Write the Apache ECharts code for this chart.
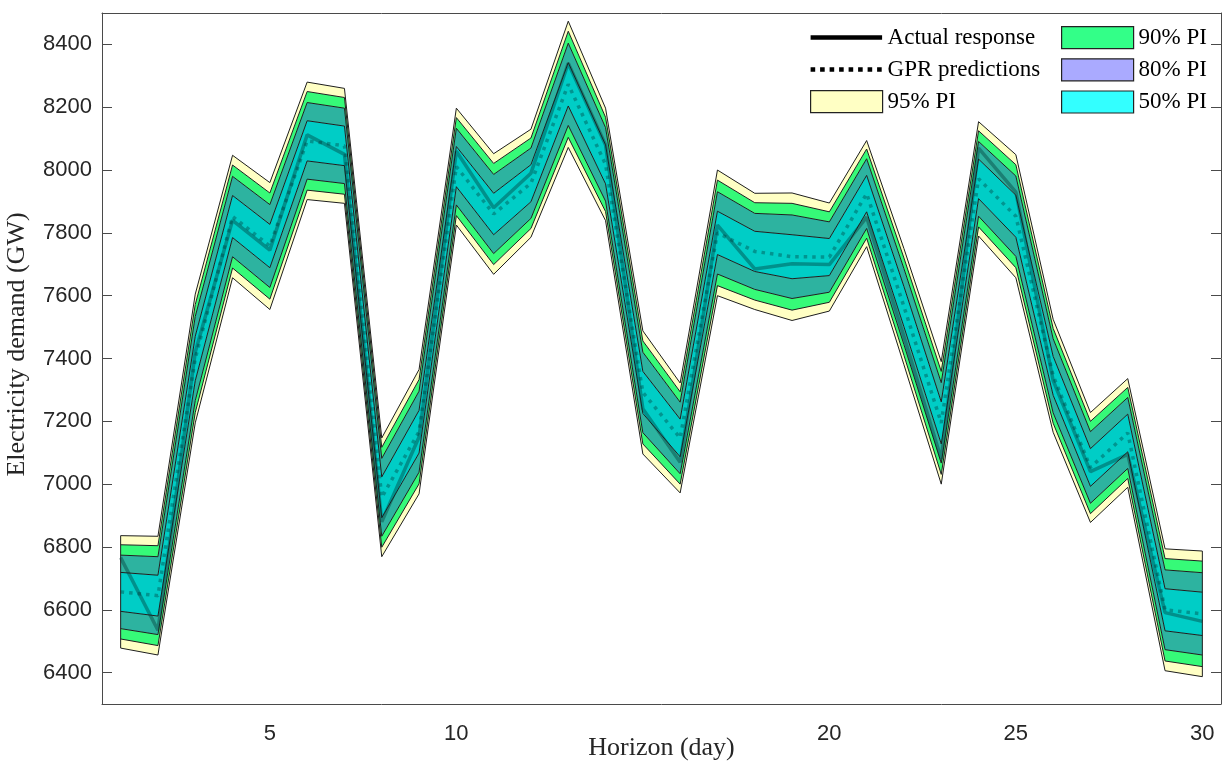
<!DOCTYPE html>
<html>
<head>
<meta charset="utf-8">
<script src="https://cdn.jsdelivr.net/npm/echarts@6/dist/echarts.min.js"></script>
<style>
  html, body { margin: 0; padding: 0; background: #fff; }
  #chart { width: 1222px; height: 765px; }
</style>
</head>
<body>
<div id="chart"></div>
<script>
// Forecast horizon (days)
const days = ['1','2','3','4','5','6','7','8','9','10','11','12','13','14','15',
              '16','17','18','19','20','21','22','23','24','25','26','27','28','29','30'];

// Observed daily electricity demand (GW)
const actual = [6766, 6535, 7420, 7840, 7745, 8112, 8050, 6880, 7150, 8060,
                7880, 7990, 8340, 8080, 7240, 7070, 7825, 7685, 7702, 7699,
                7850, 7470, 7080, 8070, 7930, 7330, 7040, 7095, 6591, 6563];

// GPR mean prediction (GW)
const pred = [6657, 6645, 7400, 7852, 7758, 8093, 8077, 6958, 7167, 8011,
              7860, 7958, 8273, 8018, 7292, 7147, 7800, 7741, 7724, 7723,
              7925, 7565, 7195, 7972, 7853, 7345, 7053, 7163, 6600, 6587];

// Half-widths of the prediction intervals around the mean (GW)
const half95 = [179, 189, 205, 195, 202, 187, 183, 189, 198, 186,
                192, 172, 201, 179, 196, 175, 200, 185, 203, 172,
                169, 185, 195, 182, 196, 180, 175, 173, 194, 200];
const half90 = [150, 159, 172, 164, 169, 157, 154, 159, 166, 156,
                161, 144, 169, 150, 164, 147, 168, 155, 170, 144,
                142, 155, 164, 153, 164, 151, 147, 145, 163, 168];
const half80 = [117, 124, 134, 128, 132, 122, 120, 124, 129, 122,
                126, 112, 131, 117, 128, 114, 131, 121, 133, 112,
                111, 121, 128, 119, 128, 118, 114, 113, 127, 131];
const half50 = [62, 65, 71, 67, 69, 64, 63, 65, 68, 64,
                66, 59, 69, 62, 67, 60, 69, 64, 70, 59,
                58, 64, 67, 63, 67, 62, 60, 60, 67, 69];

// Tick values
const xTickDays = [5, 10, 15, 20, 25, 30];
const xLabelDays = [5, 10, 20, 25, 30];
const yTicks = [6400, 6600, 6800, 7000, 7200, 7400, 7600, 7800, 8000, 8200, 8400];

// ---- styles ----
const SANS = "'Liberation Sans', Arial, Helvetica, sans-serif";
const SERIF = "'Liberation Serif', 'Times New Roman', serif";
const AXIS_COLOR = '#4a4a4a';
const TEXT_COLOR = '#262626';
const EDGE = '#1e1e1e';

const ringFill = {
  p95: '#FFFFC4',
  p90: '#36FA78',
  p80: '#2DB3A0',
  p50: '#00CDC6'
};
const legendFill = {
  p95: '#FFFFC4',
  p90: '#33FF88',
  p80: '#AAAAFF',
  p50: '#33FFFF'
};

// stacked layers: lower 95 bound, then the rings from bottom to top
const sub = (a, b) => a.map((v, i) => v - b[i]);
const lower95 = pred.map((v, i) => v - half95[i]);
const upper95 = pred.map((v, i) => v + half95[i]);
const layers = [
  { name: '95% PI', data: sub(half95, half90), color: ringFill.p95 },
  { name: '90% PI', data: sub(half90, half80), color: ringFill.p90 },
  { name: '80% PI', data: sub(half80, half50), color: ringFill.p80 },
  { name: '50% PI', data: half50.map(v => 2 * v), color: ringFill.p50 },
  { name: '80% PI', data: sub(half80, half50), color: ringFill.p80 },
  { name: '90% PI', data: sub(half90, half80), color: ringFill.p90 },
  { name: '95% PI', data: sub(half95, half90), color: ringFill.p95 }
];

const series = [];
series.push({
  name: 'PI lower edge',
  type: 'line',
  stack: 'pi',
  data: lower95,
  symbol: 'none',
  silent: true,
  lineStyle: { color: EDGE, width: 1 },
  z: 2
});
layers.forEach(l => {
  series.push({
    name: l.name,
    type: 'line',
    stack: 'pi',
    data: l.data,
    symbol: 'none',
    silent: true,
    lineStyle: { color: EDGE, width: 1 },
    itemStyle: { color: l.color },
    areaStyle: { color: l.color, opacity: 1 },
    z: 2
  });
});
// closing vertical edges of the band at the first and last day
[0, days.length - 1].forEach(i => {
  series.push({
    name: 'band edge ' + days[i],
    type: 'line',
    data: [[days[i], lower95[i]], [days[i], upper95[i]]],
    symbol: 'none',
    silent: true,
    lineStyle: { color: EDGE, width: 1 },
    z: 3
  });
});
series.push({
  name: 'GPR predictions',
  type: 'line',
  data: pred,
  symbol: 'none',
  silent: true,
  lineStyle: { color: 'rgba(0,50,50,0.36)', width: 3.5, type: [3.5, 5], cap: 'butt' },
  itemStyle: { color: '#000' },
  z: 4
});
series.push({
  name: 'Actual response',
  type: 'line',
  data: actual,
  symbol: 'none',
  silent: true,
  lineStyle: { color: 'rgba(0,45,45,0.38)', width: 3.5 },
  itemStyle: { color: '#000' },
  z: 4
});

// legend icons: solid and dotted line glyphs in a 72x22 box
const ICON_W = 72, ICON_H = 22;
const solidIcon = 'path://M0,0 M0,8.8 L71.5,8.8 L71.5,13.2 L0,13.2 Z M72,22';
let dotted = 'path://M0,0 ';
for (let x = 0; x + 4.6 <= 72; x += 9.5) {
  dotted += 'M' + x + ',8.7 h4.6 v4.6 h-4.6 Z ';
}
dotted += 'M72,22';

const legendText = { fontFamily: SERIF, fontSize: 23, color: '#000' };
const boxItem = (name, fill) => ({
  name: name,
  icon: 'rect',
  itemStyle: { color: fill, borderColor: '#222', borderWidth: 1.2, opacity: 1 }
});

const tickSet = new Set(xTickDays.map(String));
const labelSet = new Set(xLabelDays.map(String));

const option = {
  animation: false,
  backgroundColor: '#fff',
  grid: { left: 102, right: 1, top: 13, bottom: 61, containLabel: false, outerBoundsMode: 'none' },
  legend: [
    {
      orient: 'vertical',
      left: 810,
      top: 26,
      padding: 0,
      itemWidth: ICON_W,
      itemHeight: ICON_H,
      itemGap: 9,
      selectedMode: false,
      textStyle: legendText,
      data: [
        { name: 'Actual response', icon: solidIcon, itemStyle: { color: '#000', borderWidth: 0 } },
        { name: 'GPR predictions', icon: dotted, itemStyle: { color: '#000', borderWidth: 0 } },
        boxItem('95% PI', legendFill.p95)
      ]
    },
    {
      orient: 'vertical',
      left: 1061,
      top: 26,
      padding: 0,
      itemWidth: ICON_W,
      itemHeight: ICON_H,
      itemGap: 9,
      selectedMode: false,
      textStyle: legendText,
      data: [
        boxItem('90% PI', legendFill.p90),
        boxItem('80% PI', legendFill.p80),
        boxItem('50% PI', legendFill.p50)
      ]
    }
  ],
  xAxis: [
    {
      type: 'category',
      data: days,
      boundaryGap: true,
      position: 'bottom',
      name: 'Horizon (day)',
      nameLocation: 'middle',
      nameGap: 31,
      nameMoveOverlap: false,
      nameTextStyle: { fontFamily: SERIF, fontSize: 26, color: TEXT_COLOR },
      axisLine: { lineStyle: { color: AXIS_COLOR, width: 1 } },
      axisTick: {
        inside: true, length: 10, alignWithLabel: true,
        interval: (i, v) => tickSet.has(v),
        lineStyle: { color: AXIS_COLOR }
      },
      axisLabel: {
        interval: (i, v) => labelSet.has(v),
        fontFamily: SANS, fontSize: 22, color: TEXT_COLOR, margin: 19
      },
      splitLine: { show: false }
    },
    {
      type: 'category',
      data: days,
      boundaryGap: true,
      position: 'top',
      axisLine: { lineStyle: { color: AXIS_COLOR, width: 1 } },
      axisTick: {
        inside: true, length: 10, alignWithLabel: true,
        interval: (i, v) => tickSet.has(v),
        lineStyle: { color: AXIS_COLOR }
      },
      axisLabel: { show: false },
      splitLine: { show: false }
    }
  ],
  yAxis: [
    {
      type: 'value',
      min: 6300,
      max: 8500,
      splitNumber: 11,
      position: 'left',
      name: 'Electricity demand (GW)',
      nameLocation: 'middle',
      nameGap: 72,
      nameMoveOverlap: false,
      nameTextStyle: { fontFamily: SERIF, fontSize: 26, color: TEXT_COLOR, padding: [0, 0, 0, 28] },
      axisLine: { show: true, lineStyle: { color: AXIS_COLOR, width: 1 } },
      axisTick: { show: true, inside: true, length: 10, customValues: yTicks, lineStyle: { color: AXIS_COLOR } },
      axisLabel: {
        customValues: yTicks,
        formatter: v => String(v),
        fontFamily: SANS, fontSize: 22, color: TEXT_COLOR, margin: 10
      },
      splitLine: { show: false }
    },
    {
      type: 'value',
      min: 6300,
      max: 8500,
      splitNumber: 11,
      position: 'right',
      axisLine: { show: true, lineStyle: { color: AXIS_COLOR, width: 1 } },
      axisTick: { show: true, inside: true, length: 10, customValues: yTicks, lineStyle: { color: AXIS_COLOR } },
      axisLabel: { show: false },
      splitLine: { show: false }
    }
  ],
  series: series
};

const chart = echarts.init(document.getElementById('chart'), null, { renderer: 'canvas' });
chart.setOption(option);
</script>
</body>
</html>
